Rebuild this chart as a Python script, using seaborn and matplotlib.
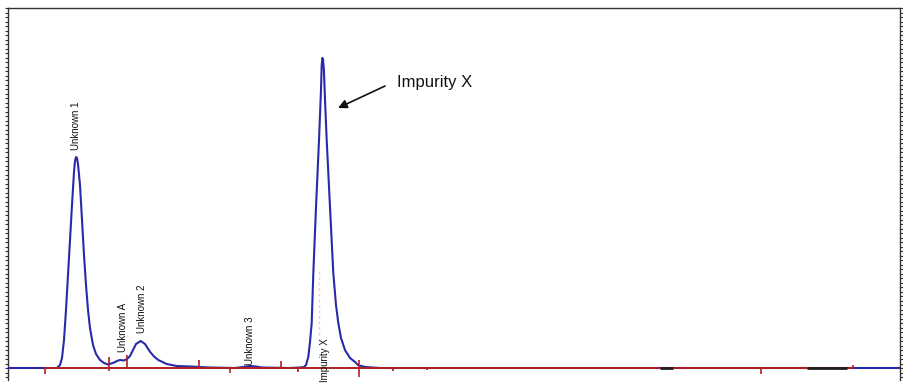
import matplotlib
matplotlib.use("Agg")
import matplotlib.pyplot as plt
from matplotlib.ticker import MultipleLocator
import seaborn as sns
import pandas as pd

# ---- data (time in min, signal in mAU) ----
time_min = [0.0, 1.633, 1.733, 1.8, 1.867, 1.933, 2.0, 2.067, 2.133, 2.2, 2.233, 2.267,
            2.3, 2.333, 2.4, 2.467, 2.533, 2.6, 2.667, 2.733, 2.833, 2.933, 3.067, 3.2,
            3.333, 3.5, 3.633, 3.733, 3.867, 3.967, 4.067, 4.167, 4.267, 4.423,
            4.567, 4.733, 4.867, 5.01, 5.29, 5.623, 6.067, 6.733, 7.567, 7.833,
            8.067, 8.267, 8.467, 9.4, 9.733, 9.867, 9.933, 10.01, 10.067, 10.123,
            10.177, 10.267, 10.367, 10.433, 10.455, 10.477, 10.5, 10.53, 10.567, 10.623,
            10.733, 10.843, 10.933, 11.01, 11.1, 11.233, 11.4, 11.567, 11.667, 11.9,
            12.4, 29.733]
signal_mau = [0.0, 0.0, 0.3, 1.0, 2.8, 5.8, 9.3, 12.8, 16.3, 19.6, 20.7, 21.1,
              21.0, 20.4, 18.3, 14.8, 11.3, 8.3, 5.8, 4.0, 2.3, 1.4, 0.8, 0.5,
              0.35, 0.5, 0.7, 0.8, 0.75, 0.9, 1.2, 1.8, 2.4, 2.7,
              2.4, 1.63, 1.15, 0.8, 0.4, 0.2, 0.15, 0.05, 0.0, 0.1,
              0.2, 0.15, 0.05, 0.0, 0.05, 0.1, 0.3, 1.1, 2.6, 4.5,
              9.5, 16.1, 22.8, 27.8, 30.2, 31.0, 30.9, 29.8, 26.8, 22.8,
              16.1, 9.5, 6.3, 4.5, 3.0, 1.8, 1.0, 0.6, 0.3, 0.1,
              0.0, 0.0]

# integration baseline
baseline_time = [1.233, 28.167]
baseline_signal = [0.0, 0.0]
dark_segments = [(21.73, 22.17), (26.63, 27.97)]

# integration event marks: time, top, bottom
event_time = [1.233, 3.367, 3.957, 6.367, 7.4, 9.1, 9.667, 11.7, 12.833, 13.967, 25.1, 28.167]
event_top = [0.0, 1.1, 1.3, 0.8, 0.0, 0.7, 0.0, 0.8, 0.0, 0.1, 0.0, 0.3]
event_bottom = [-0.6, -0.3, 0.0, 0.0, -0.5, 0.0, -0.4, -0.9, -0.3, -0.2, -0.6, 0.0]

# peak labels
peak_names = ["Unknown 1", "Unknown A", "Unknown 2", "Unknown 3", "Impurity X"]
peak_label_time = [2.267, 3.823, 4.457, 8.067, 10.567]
peak_label_signal = [21.8, 1.6, 3.5, 0.3, -1.4]

callout_text = "Impurity X"
callout_tip_time = 11.0
callout_tip_signal = 26.0
callout_tail_time = 12.567
callout_tail_signal = 28.2
callout_text_time = 12.967
callout_text_signal = 28.6

# ---- plot ----
sns.set_style("white")
plt.rcParams["font.family"] = ["Liberation Sans", "DejaVu Sans"]

fig = plt.figure(figsize=(9.04, 3.84), dpi=100)
ax = fig.add_axes([8 / 904, 4 / 384, 892 / 904, 372 / 384])

df = pd.DataFrame({"time": time_min, "signal": signal_mau})
sns.lineplot(data=df, x="time", y="signal", ax=ax, color="#2a2aa8", lw=1.5,
             estimator=None, sort=False, zorder=3)

bdf = pd.DataFrame({"time": baseline_time, "signal": baseline_signal})
sns.lineplot(data=bdf, x="time", y="signal", ax=ax, color="#b02020", lw=1.4,
             estimator=None, zorder=4)
for a, b in dark_segments:
    ax.plot([a, b], [0.0, 0.0], color="#202020", lw=2.0, zorder=5,
            solid_capstyle="butt")

ax.vlines(event_time, event_bottom, event_top, color="#b02020", lw=1.2, zorder=5)

# faint marker line at Impurity X apex
ax.plot([10.367, 10.367], [3.3, 9.8], color="#f0d9a0", lw=1.0, ls=(0, (2, 2)), zorder=2)

for name, t, s in zip(peak_names, peak_label_time, peak_label_signal):
    ax.text(t, s, name, rotation=90, ha="center", va="bottom", fontsize=7,
            color="#111111", clip_on=False, zorder=6)

ax.annotate("", xy=(callout_tip_time, callout_tip_signal),
            xytext=(callout_tail_time, callout_tail_signal),
            arrowprops=dict(arrowstyle="-|>", color="#111111", lw=1.2,
                            mutation_scale=13, shrinkA=0, shrinkB=0))
ax.text(callout_text_time, callout_text_signal, callout_text, fontsize=12,
        color="#111111", ha="left", va="center")

ax.set_xlim(0, 29.733)
ax.set_ylim(-1.2, 36.0)
ax.set_xlabel("")
ax.set_ylabel("")
ax.set_xticks([])
ax.yaxis.set_major_locator(MultipleLocator(0.45))
ax.tick_params(axis="y", which="both", left=True, right=True, direction="out",
               length=2.5, width=0.8, color="#333333", labelleft=False, labelright=False)
for side in ["left", "right", "top"]:
    ax.spines[side].set_visible(True)
    ax.spines[side].set_color("#333333")
    ax.spines[side].set_linewidth(1.0)
ax.spines["bottom"].set_visible(False)

fig.savefig("out.png", dpi=100)
